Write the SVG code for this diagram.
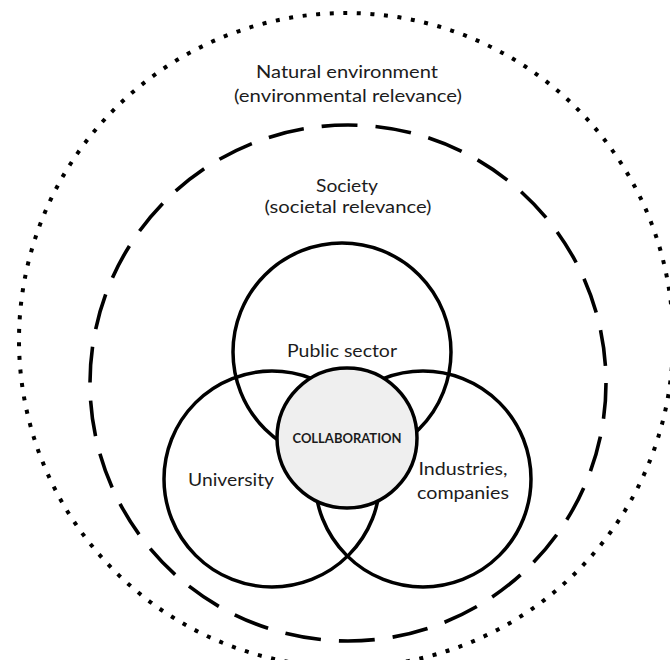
<svg xmlns="http://www.w3.org/2000/svg" width="670" height="660" viewBox="0 0 670 660">
<style>
.lbl{font-family:Lato,"Open Sans","Liberation Sans",sans-serif;font-size:18px;fill:#1c1c1c;text-anchor:middle}
.bold{font-weight:bold;font-size:13px}
.ring{fill:none;stroke:#000;stroke-width:3.5}
</style>
<rect width="670" height="660" fill="#fff"/>
<g id="natural-environment">
<circle cx="346" cy="340" r="327" fill="none" stroke="#000" stroke-width="4" stroke-dasharray="4 9.607"/>
<text class="lbl" x="347" y="78" textLength="182" lengthAdjust="spacingAndGlyphs">Natural environment</text>
<text class="lbl" x="348" y="102" textLength="228" lengthAdjust="spacingAndGlyphs">(environmental relevance)</text>
</g>
<g id="society">
<circle cx="348" cy="383" r="258" fill="none" stroke="#000" stroke-width="3.6" stroke-dasharray="36 18.04"/>
<text class="lbl" x="347" y="192" textLength="62" lengthAdjust="spacingAndGlyphs">Society</text>
<text class="lbl" x="348" y="213" textLength="167" lengthAdjust="spacingAndGlyphs">(societal relevance)</text>
</g>
<g id="public-sector">
<circle class="ring" cx="342" cy="352" r="109"/>
<text class="lbl" x="342" y="357" textLength="110" lengthAdjust="spacingAndGlyphs">Public sector</text>
</g>
<g id="university">
<circle class="ring" cx="272" cy="479" r="108"/>
<text class="lbl" x="231" y="486" textLength="86" lengthAdjust="spacingAndGlyphs">University</text>
</g>
<g id="industries">
<circle class="ring" cx="423" cy="479" r="108"/>
<text class="lbl" x="463" y="475" textLength="89" lengthAdjust="spacingAndGlyphs">Industries,</text>
<text class="lbl" x="463" y="499" textLength="92" lengthAdjust="spacingAndGlyphs">companies</text>
</g>
<g id="collaboration">
<circle cx="347" cy="438" r="70" fill="#efefef" stroke="#000" stroke-width="3.5"/>
<text class="lbl bold" x="347" y="443" textLength="109" lengthAdjust="spacingAndGlyphs">COLLABORATION</text>
</g>
</svg>
